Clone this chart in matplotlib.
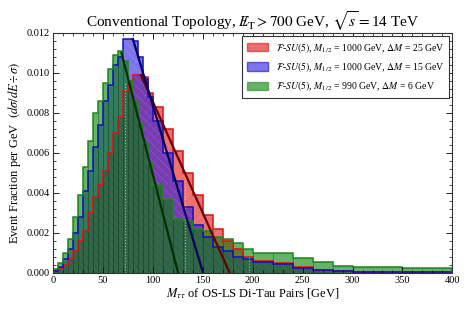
import numpy as np
import matplotlib
matplotlib.use("Agg")
import matplotlib.pyplot as plt
from matplotlib.ticker import MultipleLocator

plt.rcParams['font.family'] = ['Liberation Serif', 'DejaVu Serif']
plt.rcParams['mathtext.fontset'] = 'stix'
plt.rcParams['hatch.linewidth'] = 0.5

# bin edges: 5 GeV to 100, 10 GeV to 200, 20 GeV to 300, 50 GeV to 400
edges = list(range(0, 101, 5)) + list(range(110, 201, 10)) + [220, 240, 260, 280, 300] + [350, 400]

red = [0.0001, 0.0002, 0.0004, 0.0007, 0.0011, 0.0016, 0.0021, 0.0030, 0.0038, 0.0044,
       0.0051, 0.0060, 0.0070, 0.0078, 0.0091, 0.0096, 0.0099, 0.0099, 0.0098, 0.0090,
       0.0083, 0.0072, 0.0061, 0.0050, 0.0039, 0.0029, 0.0022, 0.0016, 0.00117, 0.0008,
       0.0006, 0.0005, 0.00027, 0.00016, 0.0001,
       0.00006, 0.00003]
blue = [0.0001, 0.0003, 0.0007, 0.0012, 0.0020, 0.0028, 0.0041, 0.0051, 0.0063, 0.0074,
        0.0086, 0.0094, 0.0104, 0.0108, 0.0117, 0.0117, 0.0116, 0.0108, 0.0097, 0.0088,
        0.0076, 0.0060, 0.0046, 0.0033, 0.0024, 0.0018, 0.0013, 0.0011, 0.0008, 0.00067,
        0.00053, 0.00044, 0.00024, 0.00016, 0.0001,
        0.00005, 0.00002]
green = [0.0002, 0.0005, 0.0010, 0.0017, 0.0028, 0.0039, 0.0053, 0.0066, 0.0080, 0.0086,
         0.0095, 0.0102, 0.0109, 0.0111, 0.0106, 0.0096, 0.0086, 0.0075, 0.0065, 0.0055,
         0.0044, 0.0037, 0.0027, 0.0026, 0.0022, 0.0021, 0.0018, 0.0017, 0.0015, 0.0012,
         0.00098, 0.00100, 0.00072, 0.00052, 0.00034,
         0.00027, 0.00022]

# straight-line fits to the trailing edges
red_fit_x, red_fit_y = [88, 177], [0.0099, 0.0]
blue_fit_x, blue_fit_y = [80, 150.3], [0.0117, 0.0]
green_fit_x, green_fit_y = [68.6, 125.3], [0.0110, 0.0]

# dotted markers
dot_x = [72, 132, 196]
dot_top = [0.0095, 0.0049, 0.0008]

labels = [r'$\mathcal{F}$-$SU(5)$, $M_{1/2}$ = 1000 GeV, $\Delta M$ = 25 GeV',
          r'$\mathcal{F}$-$SU(5)$, $M_{1/2}$ = 1000 GeV, $\Delta M$ = 15 GeV',
          r'$\mathcal{F}$-$SU(5)$, $M_{1/2}$ = 990 GeV, $\Delta M$ = 6 GeV']

fig = plt.figure(figsize=(4.71, 3.14), dpi=100)
ax = fig.add_axes([0.1125, 0.131, 0.848, 0.764])

edges = np.array(edges)
widths = np.diff(edges)

fills = [(0.88, 0.05, 0.05), (0.16, 0.10, 0.88), (0.0, 0.50, 0.0)]
lines = ['#e01010', '#1010c0', '#1f8a1f']
hatches = ['////', '\\\\\\\\', None]
data = [red, blue, green]

handles = []
for vals, fc, lc, h, lab in zip(data, fills, lines, hatches, labels):
    p = ax.stairs(vals, edges, fill=True, facecolor=fc, alpha=0.6, linewidth=0, label=lab)
    if h:
        ax.stairs(vals, edges, fill=True, facecolor='none', edgecolor=(1, 1, 1, 0.15),
                  hatch=h, linewidth=0)
    handles.append(p)

# faint bin edges in the green histogram
ax.bar(edges[:-1], green, width=widths, align='edge', color='none',
       edgecolor=(0.0, 0.15, 0.0, 0.35), linewidth=0.4)

for vals, lc in zip(data, lines):
    ax.stairs(vals, edges, color=lc, linewidth=1.1)

ax.vlines(dot_x, 0, dot_top, colors=(0.85, 0.9, 0.6, 0.7), linestyles=':', linewidth=0.8)

ax.plot(red_fit_x, red_fit_y, color='#6a0000', linewidth=1.6)
ax.plot(blue_fit_x, blue_fit_y, color='#000060', linewidth=1.6)
ax.plot(green_fit_x, green_fit_y, color='#003000', linewidth=1.6)

ax.set_xlim(0, 400)
ax.set_ylim(0, 0.012)
ax.xaxis.set_major_locator(MultipleLocator(50))
ax.xaxis.set_minor_locator(MultipleLocator(10))
ax.yaxis.set_major_locator(MultipleLocator(0.002))
ax.yaxis.set_minor_locator(MultipleLocator(0.0004))
ax.yaxis.set_major_formatter(matplotlib.ticker.FormatStrFormatter('%.3f'))
ax.tick_params(which='both', direction='in', top=True, right=True, labelsize=7.5, pad=2)
ax.tick_params(which='major', length=4, width=0.6)
ax.tick_params(which='minor', length=2, width=0.5)
for s in ax.spines.values():
    s.set_linewidth(0.8)
    s.set_color('#333333')

ax.set_xlabel(r'$M_{\tau\tau}$ of OS-LS Di-Tau Pairs [GeV]', fontsize=9, labelpad=1)
ax.set_ylabel(r'Event Fraction per GeV  $(d\sigma/dE \div \sigma)$', fontsize=9, labelpad=3)
ax.set_title(r'Conventional Topology, $E\!\!\!/_{\mathrm{T}} > 700$ GeV, $\sqrt{s}=$14 TeV',
             fontsize=11, pad=4)

leg = ax.legend(handles=handles, loc='upper right', fontsize=7, frameon=True, fancybox=False,
                edgecolor='#333333', framealpha=1, borderpad=0.5, handlelength=2.2,
                handleheight=0.9, labelspacing=0.55, borderaxespad=0.3)
leg.get_frame().set_linewidth(0.8)
for hnd, lc in zip(leg.legend_handles, lines):
    hnd.set_edgecolor(lc)
    hnd.set_linewidth(1.0)

fig.savefig('out.png', dpi=100)
